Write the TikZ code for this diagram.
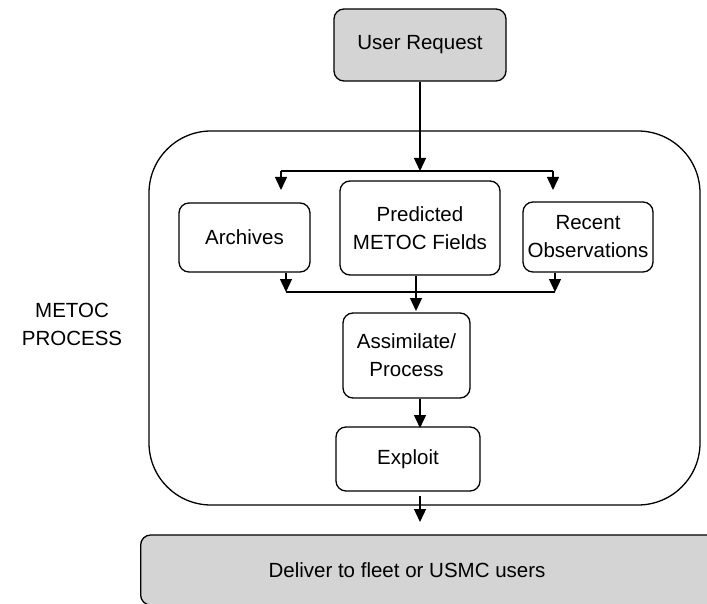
\documentclass[tikz,border=0pt]{standalone}
\usepackage{fontspec}
\setmainfont{Liberation Sans}
\usetikzlibrary{arrows.meta}
\begin{document}
\begin{tikzpicture}[x=1pt,y=-1pt,
  txt/.style={font=\fontsize{20.5}{28}\selectfont,align=center},
  box/.style={txt,draw,line width=1.3pt,rounded corners=10pt},
  graybox/.style={box,fill=black!17},
  flow/.style={line width=1.3pt,-{Triangle[length=13pt,width=12pt]}},
  plain/.style={line width=1.3pt}]
\useasboundingbox (0,0) rectangle (707,604);
% outer process container
\draw[line width=1.3pt,rounded corners=62pt] (149,131) rectangle (700,505);
\node[txt] (lbl) at (72,324) {METOC\\PROCESS};
% boxes
\node[graybox,minimum width=172pt,minimum height=72pt] (req) at (420,45) {User Request};
\node[box,minimum width=131pt,minimum height=69pt] (arch) at (244.5,237.5) {Archives};
\node[box,minimum width=160pt,minimum height=94pt] (pred) at (420,228) {Predicted\\METOC Fields};
\node[box,minimum width=130pt,minimum height=70pt] (obs) at (588,237) {Recent\\Observations};
\node[box,minimum width=127pt,minimum height=85pt] (assim) at (406.5,355.5) {Assimilate/\\Process};
\node[box,minimum width=144pt,minimum height=64pt] (expl) at (408,459) {Exploit};
\node[graybox,minimum width=580pt,minimum height=70pt,anchor=west] (deliv) at (140,570) {};
\node[txt] (delivtxt) at (407,570) {Deliver to fleet or USMC users};
% splitting from the request
\coordinate (top) at (420,171);
\coordinate (tl) at (281,171);
\coordinate (tr) at (553,171);
\draw[flow] (req.south -| top) -- (top);
\draw[plain] (tl) -- (tr);
\draw[flow] (tl) -- (281,190);
\draw[flow] (tr) -- (553,190);
% joining into assimilation
\coordinate (bl) at (286,292);
\coordinate (br) at (555,292);
\draw[plain] (bl) -- (br);
\draw[flow] (arch.south -| bl) -- (bl);
\draw[flow] (obs.south -| br) -- (br);
\draw[flow] (pred.south) ++(-4,0) -- (416,311);
\draw[flow] (assim.south -| 420,0) -- (420,428);
\draw[flow] (420,496) -- (420,522);
\end{tikzpicture}
\end{document}
